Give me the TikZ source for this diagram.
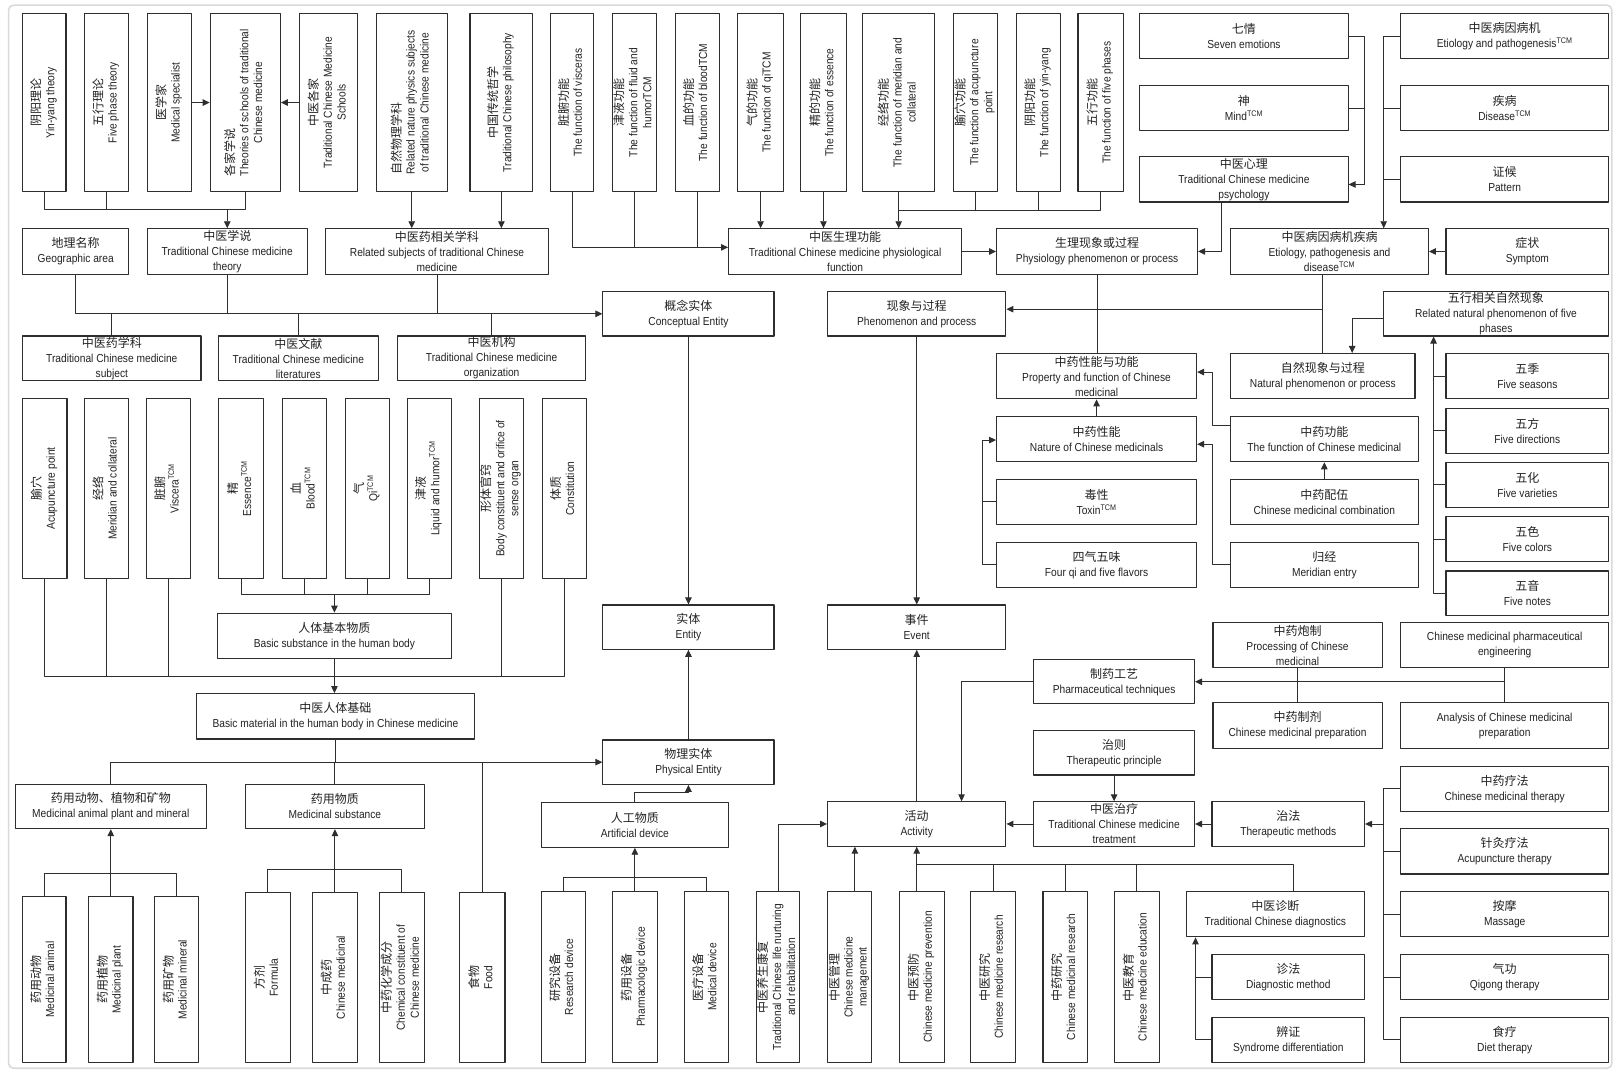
\documentclass[tikz,border=0pt]{standalone}
\usepackage{fontspec}
\usepackage{graphicx}
\usepackage{calc}
\usetikzlibrary{arrows.meta}
\setmainfont[FakeStretch=0.88]{Liberation Sans}
\newfontfamily\cjk{Noto Sans CJK SC}
\definecolor{ln}{HTML}{2E2E2E}
\definecolor{tx}{HTML}{222222}
\definecolor{frm}{HTML}{DADADA}

\begin{document}
\begin{tikzpicture}[line join=round, >={Triangle[length=7pt,width=6.5pt]},
    x=1.03061pt, y=-1.03061pt,
    box/.style={draw=ln, line width=1.1pt, inner sep=0pt, align=center, text=tx,
      font=\fontsize{11.6}{15}\selectfont},
    lk/.style={draw=ln, line width=0.95pt}]

\def\un{1.03061pt}
\def\zh#1{{\cjk\fontsize{12}{15}\selectfont #1}}
\def\tcm{\textsuperscript{TCM}}
\def\vt#1{\rotatebox{90}{\def\arraystretch{0.93}\begin{tabular}{@{}c@{}}#1\end{tabular}}}
\def\bx#1#2#3#4#5#6{\node[box, minimum width={(#4-#2)*\un}, minimum height={(#5-#3)*\un}] (#1) at ({(#2+#4)/2},{(#3+#5)/2}) {#6};}
\def\vb#1#2#3#4#5#6{\bx{#1}{#2}{#3}{#4}{#5}{\vt{#6}}}

\useasboundingbox (0,0) rectangle (1568,1038);
\draw[frm, line width=1.6pt, rounded corners=5pt] (8.3,5) rectangle (1564,1036.5);

% top row
\vb{yyll}{22}{13}{64}{186}{\zh{阴阳理论}\\Yin-yang theory}
\vb{wxll}{82}{13}{125}{186}{\zh{五行理论}\\Five phase theory}
\vb{yxj}{143}{13}{186}{186}{\zh{医学家}\\Medical specialist}
\vb{gjxs}{204}{13}{272}{186}{\makebox[\widthof{Theories of schools of traditional}][l]{\zh{各家学说}}\\Theories of schools of traditional\\Chinese medicine}
\vb{zygj}{291}{13}{347}{186}{\zh{中医各家}\\Traditional Chinese Medicine\\Schools}
\vb{zrwl}{365}{13}{434}{186}{\makebox[\widthof{Related nature physics subjects}][l]{\zh{自然物理学科}}\\Related nature physics subjects\\of traditional Chinese medicine}
\vb{zgct}{456}{13}{517}{186}{\zh{中国传统哲学}\\Traditional Chinese philosophy}
\vb{zfgn}{534}{13}{576}{186}{\zh{脏腑功能}\\The function of visceras}
\vb{jygn}{594}{13}{637}{186}{\zh{津液功能}\\The function of fluid and\\humorTCM}
\vb{xdgn}{655}{13}{698}{186}{\zh{血的功能}\\The function of bloodTCM}
\vb{qdgn}{716}{13}{760}{186}{\zh{气的功能}\\The function of qiTCM}
\vb{jdgn}{777}{13}{821}{186}{\zh{精的功能}\\The function of essence}
\vb{jlgn}{837}{13}{907}{186}{\zh{经络功能}\\The function of meridian and\\collateral}
\vb{sxgn}{925}{13}{968}{186}{\zh{腧穴功能}\\The function of acupuncture\\point}
\vb{yygn}{986}{13}{1029}{186}{\zh{阴阳功能}\\The function of yin-yang}
\vb{wxgn}{1046}{13}{1090}{186}{\zh{五行功能}\\The function of five phases}

\bx{qq}{1106}{13}{1308}{57}{\zh{七情}\\Seven emotions}
\bx{shen}{1106}{83}{1308}{127}{\zh{神}\\Mind\tcm}
\bx{xl}{1106}{152}{1308}{196}{\zh{中医心理}\\Traditional Chinese medicine\\psychology}
\bx{bygj}{1359}{13}{1561}{57}{\zh{中医病因病机}\\Etiology and pathogenesis\tcm}
\bx{jb}{1359}{83}{1561}{127}{\zh{疾病}\\Disease\tcm}
\bx{zhg}{1359}{152}{1561}{196}{\zh{证候}\\Pattern}

% second row
\bx{dlmc}{22}{222}{125}{266}{\zh{地理名称}\\Geographic area}
\bx{zyxs}{143}{222}{298}{266}{\zh{中医学说}\\Traditional Chinese medicine\\theory}
\bx{xgxk}{316}{222}{532}{266}{\zh{中医药相关学科}\\Related subjects of traditional Chinese\\medicine}
\bx{slgn}{707}{222}{933}{266}{\zh{中医生理功能}\\Traditional Chinese medicine physiological\\function}
\bx{slxx}{967}{222}{1162}{266}{\zh{生理现象或过程}\\Physiology phenomenon or process}
\bx{bybj}{1194}{222}{1386}{266}{\zh{中医病因病机疾病}\\Etiology, pathogenesis and\\disease\tcm}
\bx{zz}{1403}{222}{1561}{266}{\zh{症状}\\Symptom}

\bx{gnst}{585}{283}{751}{326}{\zh{概念实体}\\Conceptual Entity}
\bx{xxgc}{803}{283}{976}{326}{\zh{现象与过程}\\Phenomenon and process}
\bx{wxxg}{1342}{283}{1561}{326}{\zh{五行相关自然现象}\\Related natural phenomenon of five\\phases}
\bx{zyxk}{22}{326}{195}{369}{\zh{中医药学科}\\Traditional Chinese medicine\\subject}
\bx{zywx}{212}{326}{367}{369}{\zh{中医文献}\\Traditional Chinese medicine\\literatures}
\bx{zyjg}{386}{326}{568}{369}{\zh{中医机构}\\Traditional Chinese medicine\\organization}

% chinese medicinal, natural phenomena
\bx{xngn}{967}{343}{1161}{387}{\zh{中药性能与功能}\\Property and function of Chinese\\medicinal}
\bx{zrxx}{1194}{343}{1373}{387}{\zh{自然现象与过程}\\Natural phenomenon or process}
\bx{zyxn}{967}{404}{1161}{448}{\zh{中药性能}\\Nature of Chinese medicinals}
\bx{zygn}{1194}{404}{1376}{448}{\zh{中药功能}\\The function of Chinese medicinal}
\bx{dx}{967}{465}{1161}{509}{\zh{毒性}\\Toxin\tcm}
\bx{zypw}{1194}{465}{1376}{509}{\zh{中药配伍}\\Chinese medicinal combination}
\bx{sqww}{967}{526}{1161}{570}{\zh{四气五味}\\Four qi and five flavors}
\bx{gj}{1194}{526}{1376}{570}{\zh{归经}\\Meridian entry}
\bx{wj}{1403}{343}{1561}{387}{\zh{五季}\\Five seasons}
\bx{wf}{1403}{396}{1561}{440}{\zh{五方}\\Five directions}
\bx{wh}{1403}{449}{1561}{492}{\zh{五化}\\Five varieties}
\bx{ws}{1403}{501}{1561}{545}{\zh{五色}\\Five colors}
\bx{wy}{1403}{554}{1561}{597}{\zh{五音}\\Five notes}

% human body
\vb{sx}{22}{387}{65}{561}{\zh{腧穴}\\Acupuncture point}
\vb{jl}{82}{387}{125}{561}{\zh{经络}\\Meridian and collateral}
\vb{zf}{142}{387}{185}{561}{\zh{脏腑}\\Viscera\tcm}
\vb{jing}{212}{387}{256}{561}{\zh{精}\\Essence\tcm}
\vb{xue}{274}{387}{317}{561}{\zh{血}\\Blood\tcm}
\vb{qi}{335}{387}{378}{561}{\zh{气}\\Qi\tcm}
\vb{jy}{395}{387}{438}{561}{\zh{津液}\\Liquid and humor\tcm}
\vb{xtgq}{465}{387}{508}{561}{\zh{形体官窍}\\Body constituent and orifice of\\sense organ}
\vb{tz}{526}{387}{569}{561}{\zh{体质}\\Constitution}
\bx{rtjb}{211}{595}{438}{639}{\zh{人体基本物质}\\Basic substance in the human body}
\bx{rtjc}{191}{673}{460}{717}{\zh{中医人体基础}\\Basic material in the human body in Chinese medicine}
\bx{st}{585}{587}{751}{630}{\zh{实体}\\Entity}
\bx{sj}{803}{587}{976}{630}{\zh{事件}\\Event}

% bottom part
\bx{ydzk}{15}{761}{200}{804}{\zh{药用动物、植物和矿物}\\Medicinal animal plant and mineral}
\bx{yywz}{238}{761}{412}{804}{\zh{药用物质}\\Medicinal substance}
\bx{wlst}{585}{718}{751}{761}{\zh{物理实体}\\Physical Entity}
\bx{rgwz}{525}{779}{707}{822}{\zh{人工物质}\\Artificial device}
\bx{hd}{803}{778}{976}{821}{\zh{活动}\\Activity}
\bx{zl}{1003}{778}{1159}{821}{\zh{中医治疗}\\Traditional Chinese medicine\\treatment}
\bx{zfa2}{1176}{778}{1324}{821}{\zh{治法}\\Therapeutic methods}
\bx{zze}{1003}{709}{1159}{752}{\zh{治则}\\Therapeutic principle}
\bx{zygy}{1003}{640}{1159}{683}{\zh{制药工艺}\\Pharmaceutical techniques}
\bx{pz}{1177}{604}{1341}{648}{\zh{中药炮制}\\Processing of Chinese\\medicinal}
\bx{zj}{1177}{682}{1341}{726}{\zh{中药制剂}\\Chinese medicinal preparation}
\bx{gc}{1359}{604}{1561}{648}{Chinese medicinal pharmaceutical\\engineering}
\bx{fx}{1359}{682}{1561}{726}{Analysis of Chinese medicinal\\preparation}
\bx{ylf}{1359}{744}{1561}{787}{\zh{中药疗法}\\Chinese medicinal therapy}
\bx{zjl}{1359}{804}{1561}{848}{\zh{针灸疗法}\\Acupuncture therapy}
\bx{am}{1359}{865}{1561}{909}{\zh{按摩}\\Massage}
\bx{qg}{1359}{926}{1561}{970}{\zh{气功}\\Qigong therapy}
\bx{sl}{1359}{987}{1561}{1031}{\zh{食疗}\\Diet therapy}
\bx{zd}{1151}{865}{1324}{909}{\zh{中医诊断}\\Traditional Chinese diagnostics}
\bx{zfa}{1176}{926}{1324}{970}{\zh{诊法}\\Diagnostic method}
\bx{bz}{1176}{987}{1324}{1031}{\zh{辨证}\\Syndrome differentiation}

\vb{ydw}{22}{870}{64}{1031}{\zh{药用动物}\\Medicinal animal}
\vb{yzw}{86}{870}{129}{1031}{\zh{药用植物}\\Medicinal plant}
\vb{ykw}{150}{870}{193}{1031}{\zh{药用矿物}\\Medicinal mineral}
\vb{fj}{238}{866}{282}{1031}{\zh{方剂}\\Formula}
\vb{zcy}{303}{866}{347}{1031}{\zh{中成药}\\Chinese medicinal}
\vb{hxcf}{368}{866}{412}{1031}{\zh{中药化学成分}\\Chemical constituent of\\Chinese medicine}
\vb{sw}{446}{866}{490}{1031}{\zh{食物}\\Food}
\vb{yjsb}{525}{865}{568}{1031}{\zh{研究设备}\\Research device}
\vb{yysb}{594}{865}{638}{1031}{\zh{药用设备}\\Pharmacologic device}
\vb{ylsb}{664}{865}{707}{1031}{\zh{医疗设备}\\Medical device}
\vb{ysky}{734}{865}{776}{1031}{\zh{中医养生康复}\\Traditional Chinese life nurturing\\and rehabilitation}
\vb{zygl}{803}{865}{846}{1031}{\zh{中医管理}\\Chinese medicine\\management}
\vb{zyyf}{873}{865}{916}{1031}{\zh{中医预防}\\Chinese medicine prevention}
\vb{zyyj}{942}{865}{985}{1031}{\zh{中医研究}\\Chinese medicine research}
\vb{zyyjb}{1012}{865}{1055}{1031}{\zh{中药研究}\\Chinese medicinal research}
\vb{zyjy}{1081}{865}{1125}{1031}{\zh{中医教育}\\Chinese medicine education}

% theory -> conceptual entity
\draw[lk,->] (yxj.east) -- (gjxs.west);
\draw[lk,->] (zygj.west) -- (gjxs.east);
\coordinate (j1) at (0,203);
\draw[lk] (yyll.south) |- (gjxs.south |- j1) -- (gjxs.south);
\draw[lk] (wxll.south) -- (wxll.south |- j1);
\draw[lk,->] (zyxs.north |- j1) -- (zyxs.north);
\draw[lk,->] (zrwl.south) -- (zrwl.south |- xgxk.north);
\draw[lk,->] (zgct.south) -- (zgct.south |- xgxk.north);
\draw[lk,->] (dlmc.south) |- (gnst.west);
\draw[lk] (zyxs.south) -- (zyxs.south |- gnst.west);
\draw[lk] (xgxk.south) -- (xgxk.south |- gnst.west);
\draw[lk] (zyxk.north) -- (zyxk.north |- gnst.west);
\draw[lk] (zywx.north) -- (zywx.north |- gnst.west);
\draw[lk] (zyjg.north) -- (zyjg.north |- gnst.west);
\draw[lk,->] (gnst.south) -- (st.north);
\draw[lk,->] (wlst.north) -- (st.south);

% physiological function
\coordinate (j3) at (0,240);
\draw[lk,->] (zfgn.south) |- (slgn.west |- j3);
\draw[lk] (jygn.south) -- (jygn.south |- j3);
\draw[lk] (xdgn.south) -- (xdgn.south |- j3);
\draw[lk,->] (qdgn.south) -- (qdgn.south |- slgn.north);
\draw[lk,->] (jdgn.south) -- (jdgn.south |- slgn.north);
\draw[lk,->] (jlgn.south) -- (jlgn.south |- slgn.north);
\coordinate (j4) at (0,204);
\draw[lk] (wxgn.south) |- (jlgn.south |- j4);
\draw[lk] (sxgn.south) -- (sxgn.south |- j4);
\draw[lk] (yygn.south) -- (yygn.south |- j4);
\draw[lk,->] (slgn.east) -- (slxx.west);

% psychology, etiology
\coordinate (j5) at (1324,179);
\draw[lk] (qq.east) -| (j5);
\draw[lk] (shen.east) -- (shen.east -| j5);
\draw[lk,->] (j5) -- (xl.east |- j5);
\coordinate (g2) at ([xshift=-22*\un]xl.south);
\draw[lk,->] (g2) |- (slxx.east);
\coordinate (j6) at (1342.6,0);
\draw[lk,->] (bygj.west) -| (j6 |- bybj.north);
\draw[lk] (jb.west) -- (jb.west -| j6);
\draw[lk] (zhg.west) -- (zhg.west -| j6);
\draw[lk,->] (zz.west) -- (bybj.east);

% phenomenon and process
\coordinate (j7) at (0,300);
\draw[lk] (zrxx.north) -- (zrxx.north |- bybj.south);
\draw[lk,->] (zrxx.north |- j7) -- (xxgc.east |- j7);
\draw[lk] (slxx.south) -- (slxx.south |- xngn.north);
\coordinate (j8) at (1312,309);
\draw[lk,->] (wxxg.west |- j8) -- (j8) -- (j8 |- zrxx.north);
\draw[lk,->] (xxgc.south) -- (sj.north);
\coordinate (j9) at (1391,0);
\draw[lk,->] (wy.west) -| (j9 |- wxxg.south);
\draw[lk] (wj.west) -- (wj.west -| j9);
\draw[lk] (wf.west) -- (wf.west -| j9);
\draw[lk] (wh.west) -- (wh.west -| j9);
\draw[lk] (ws.west) -- (ws.west -| j9);

% property of chinese medicinal
\draw[lk,->] (zyxn.north) -- (xngn.south);
\coordinate (j10) at (1176,413);
\coordinate (j11) at (1176,361);
\draw[lk,->] (zygn.west |- j10) -- (j10) -- (j11) -- (xngn.east |- j11);
\coordinate (j12) at (1176,431);
\draw[lk,->] (gj.west) -| (j12) -- (zyxn.east |- j12);
\draw[lk,->] (zypw.north) -- (zygn.south);
\coordinate (j13) at (953.5,427);
\draw[lk,->] (sqww.west) -| (j13) -- (zyxn.west |- j13);
\draw[lk] (dx.west) -- (dx.west -| j13);

% human body
\coordinate (j14) at (0,577);
\draw[lk] (jing.south) |- (jy.south |- j14) -- (jy.south);
\draw[lk] (xue.south) -- (xue.south |- j14);
\draw[lk] (qi.south) -- (qi.south |- j14);
\draw[lk,->] (rtjb.north |- j14) -- (rtjb.north);
\coordinate (j15) at (0,656);
\draw[lk] (sx.south) |- (tz.south |- j15) -- (tz.south);
\draw[lk] (jl.south) -- (jl.south |- j15);
\draw[lk] (zf.south) -- (zf.south |- j15);
\draw[lk] (xtgq.south) -- (xtgq.south |- j15);
\draw[lk,->] (rtjb.south) -- (rtjb.south |- rtjc.north);

% physical entity
\coordinate (j16) at (0,739);
\draw[lk] (rtjc.south) -- (rtjc.south |- j16);
\draw[lk,->] (ydzk.north) |- (wlst.west);
\draw[lk] (yywz.north) -- (yywz.north |- j16);
\draw[lk] (sw.north) -- (sw.north |- j16);
\coordinate (j17) at (0,848);
\draw[lk] (ydw.north) |- (ykw.north |- j17) -- (ykw.north);
\draw[lk,->] (yzw.north) -- (yzw.north |- ydzk.south);
\coordinate (j18) at (0,844);
\draw[lk] (fj.north) |- (hxcf.north |- j18) -- (hxcf.north);
\draw[lk,->] (zcy.north) -- (zcy.north |- yywz.south);
\coordinate (j19) at (0,851);
\draw[lk] (yjsb.north) |- (ylsb.north |- j19) -- (ylsb.north);
\draw[lk,->] (yysb.north) -- (yysb.north |- rgwz.south);
\coordinate (j20) at (0,769);
\draw[lk,->] (rgwz.north) |- (wlst.south |- j20) -- (wlst.south);

% activity
\draw[lk,->] (hd.north) -- (sj.south);
\draw[lk,->] (ysky.north) |- (hd.west);
\coordinate (g1) at ([xshift=5*\un]zygl.north);
\draw[lk,->] (g1) -- (g1 |- hd.south);
\coordinate (j21) at (0,839);
\coordinate (j22) at (1255,839);
\draw[lk,->] (hd.south |- zyyf.north) -- (hd.south);
\draw[lk] (hd.south |- j21) -- (j22) -- (j22 |- zd.north);
\draw[lk] (zyyj.north) -- (zyyj.north |- j21);
\draw[lk] (zyyjb.north) -- (zyyjb.north |- j21);
\draw[lk] (zyjy.north) -- (zyjy.north |- j21);
\draw[lk,->] (zl.west) -- (hd.east);
\draw[lk,->] (zfa2.west) -- (zl.east);
\draw[lk,->] (zze.south) -- (zl.north);
\coordinate (j23) at (933,0);
\draw[lk,->] (zygy.west) -| (j23 |- hd.north);
\draw[lk] (pz.south) -- (zj.north);
\draw[lk] (gc.south) -- (fx.north);
\draw[lk,->] (gc.south |- zygy.east) -- (zygy.east);

% therapy, diagnostics
\coordinate (j24) at (1342,0);
\draw[lk] (ylf.west) -| (j24 |- sl.west) -- (sl.west);
\draw[lk] (zjl.west) -- (zjl.west -| j24);
\draw[lk] (am.west) -- (am.west -| j24);
\draw[lk] (qg.west) -- (qg.west -| j24);
\draw[lk,->] (j24 |- zfa2.east) -- (zfa2.east);
\coordinate (j25) at (1160,0);
\draw[lk,->] (bz.west) -| (j25 |- zd.south);
\draw[lk] (zfa.west) -- (zfa.west -| j25);

\end{tikzpicture}
\end{document}
